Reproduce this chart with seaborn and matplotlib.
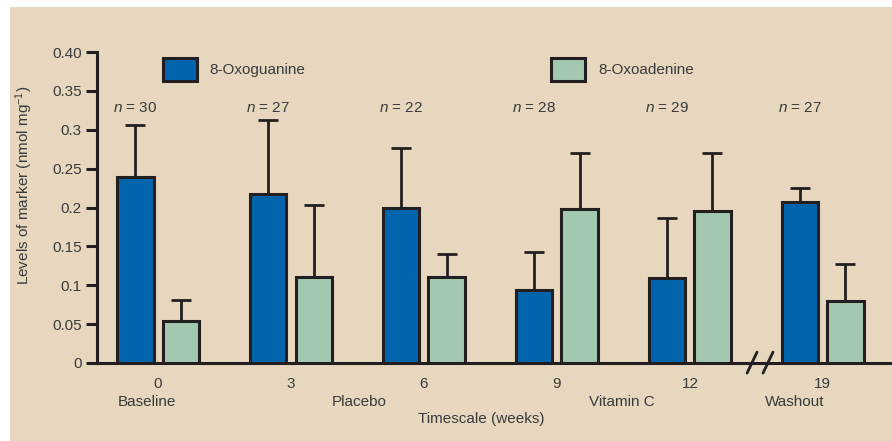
import pandas as pd
import numpy as np
import seaborn as sns
import matplotlib.pyplot as plt
import matplotlib.transforms as mtransforms
from matplotlib.patches import Rectangle

# values (nmol mg-1)
weeks = ['0', '3', '6', '9', '12', '19']
n_subjects = [30, 27, 22, 28, 29, 27]
oxoguanine = [0.239, 0.218, 0.200, 0.094, 0.109, 0.207]
oxoguanine_upper = [0.306, 0.313, 0.276, 0.143, 0.186, 0.225]
oxoadenine = [0.054, 0.111, 0.111, 0.198, 0.195, 0.080]
oxoadenine_upper = [0.081, 0.203, 0.140, 0.270, 0.270, 0.127]
phases = ['Baseline', 'Placebo', 'Vitamin C', 'Washout']
phase_pos = [-0.08, 1.51, 3.49, 4.79]
markers = ['8-Oxoguanine', '8-Oxoadenine']

BG = '#E7D7BF'
BLUE = '#0065AC'
GREEN = '#A3C8B0'
EDGE = '#231F20'
TXT = '#3a3a3a'
FS = 11

df = pd.DataFrame({
    'Week': weeks * 2,
    'Marker': [markers[0]] * len(weeks) + [markers[1]] * len(weeks),
    'Level': oxoguanine + oxoadenine,
})

sns.set_theme(style='white')
plt.rcParams['font.family'] = ['Liberation Sans', 'DejaVu Sans']
plt.rcParams['mathtext.fontset'] = 'custom'
plt.rcParams['mathtext.it'] = 'Liberation Sans:italic'
plt.rcParams['mathtext.rm'] = 'Liberation Sans'

fig = plt.figure(figsize=(8.92, 4.41), dpi=100, facecolor='white')
fig.patches.append(Rectangle((10 / 892, 0), 1, 1 - 7 / 441, transform=fig.transFigure,
                             facecolor=BG, edgecolor='none', zorder=-10))

ax = fig.add_axes([97 / 892, 78 / 441, 795 / 892, 311 / 441])
ax.set_facecolor('none')

sns.barplot(data=df, x='Week', y='Level', hue='Marker', order=weeks, hue_order=markers,
            palette=[BLUE, GREEN], saturation=1, errorbar=None, width=0.68, gap=0.2,
            edgecolor=EDGE, linewidth=2.2, ax=ax, zorder=3)

# upper-only error bars, placed at the centre of each drawn bar
for container, upper in zip(ax.containers, [oxoguanine_upper, oxoadenine_upper]):
    for bar, up in zip(container.patches, upper):
        xc = bar.get_x() + bar.get_width() / 2
        h = bar.get_height()
        ax.errorbar(xc, h, yerr=[[0], [up - h]], fmt='none', ecolor=EDGE,
                    elinewidth=2, capsize=7.5, capthick=2, zorder=2)

ax.set_ylim(0, 0.4)
ax.set_xlim(-0.459, 5.52)
ax.set_yticks([0, 0.05, 0.1, 0.15, 0.2, 0.25, 0.3, 0.35, 0.4])
ax.set_yticklabels(['0', '0.05', '0.1', '0.15', '0.2', '0.25', '0.3', '0.35', '0.40'])
ax.tick_params(axis='y', left=True, length=8, width=2.2, color=EDGE, labelsize=FS,
               labelcolor=TXT, pad=3)
ax.tick_params(axis='x', bottom=False, labelsize=FS, labelcolor=TXT, pad=4)
for s in ['top', 'right']:
    ax.spines[s].set_visible(False)
for s in ['left', 'bottom']:
    ax.spines[s].set_color(EDGE)
    ax.spines[s].set_linewidth(2.2)

ax.set_xlabel('')
ax.set_ylabel('Levels of marker (nmol mg$^{-1}$)', fontsize=FS, color=TXT)
ax.yaxis.set_label_coords(-62 / 795, 0.57)

# n per time point, left-aligned over the blue bars
for i, n in enumerate(n_subjects):
    ax.text(i - 0.34, 0.328, f'$\\it{{n}}$ = {n}', ha='left', va='center',
            fontsize=FS, color=TXT)

# phase labels and axis title under the week numbers
offs = mtransforms.offset_copy(ax.get_xaxis_transform(), fig=fig, y=-39, units='dots')
for name, pos in zip(phases, phase_pos):
    ax.text(pos, 0, name, transform=offs, ha='center', va='center', fontsize=FS, color=TXT)
offs2 = mtransforms.offset_copy(ax.get_xaxis_transform(), fig=fig, y=-56, units='dots')
ax.text(2.43, 0, 'Timescale (weeks)', transform=offs2, ha='center', va='center',
        fontsize=FS, color=TXT)

# axis break marks between week 12 and 19
for x0 in [4.43, 4.55]:
    ax.plot([x0, x0 + 0.075], [-0.013, 0.014], color=EDGE, lw=2, clip_on=False, zorder=5)

leg = ax.legend(loc='upper left', bbox_to_anchor=(163 / 892, 383 / 441),
                bbox_transform=fig.transFigure, ncol=2, frameon=False, fontsize=FS,
                handlelength=2.2, handleheight=1.95, handletextpad=0.85, columnspacing=16.1,
                borderpad=0, borderaxespad=0, labelcolor=TXT)
for t in leg.get_texts():
    t.set_va('baseline')

fig.savefig('out.png', dpi=100, facecolor='white')
